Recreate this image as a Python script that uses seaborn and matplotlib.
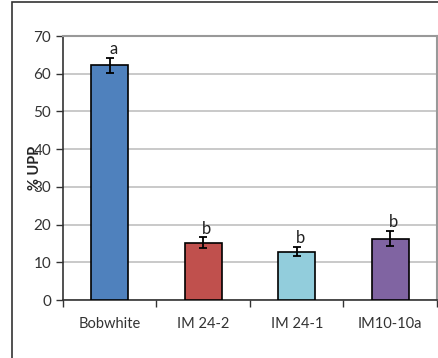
import matplotlib
matplotlib.use('Agg')
from matplotlib import pyplot as plt
from matplotlib.patches import Rectangle
import seaborn as sns
import pandas as pd

sns.set_style('white')
plt.rcParams['font.family'] = ['Lato', 'DejaVu Sans']

lines = ['Bobwhite', 'IM 24-2', 'IM 24-1', 'IM10-10a']
upp = [62.2, 15.2, 12.8, 16.3]
upp_err = [2.0, 1.4, 1.2, 2.0]
letters = ['a', 'b', 'b', 'b']
colors = ['#4f81bd', '#c0504d', '#92cddc', '#8064a2']

df = pd.DataFrame({'line': lines, 'upp': upp})

fig = plt.figure(figsize=(4.39, 3.58), dpi=100)
ax = fig.add_axes([63 / 439, 58 / 358, 374 / 439, 264 / 358])

sns.barplot(data=df, x='line', y='upp', hue='line', palette=colors, order=lines,
            width=0.4, saturation=1, edgecolor='black', linewidth=1.2, legend=False,
            ax=ax, zorder=3)
ax.errorbar(range(len(lines)), upp, yerr=upp_err, fmt='none', ecolor='black',
            elinewidth=1.3, capsize=3, capthick=1.3, zorder=4)
for i, (v, e, t) in enumerate(zip(upp, upp_err, letters)):
    ax.text(i + 0.04, v + e + 0.2, t, ha='center', va='bottom', fontsize=12, color='#222222')

ax.set_ylim(0, 70)
ax.set_xlim(-0.5, len(lines) - 0.5)
ax.set_yticks(range(0, 71, 10))
ax.yaxis.grid(True, color='#c0c0c0', linewidth=1.2, zorder=0)
ax.set_axisbelow(True)
ax.set_xlabel('')
ax.set_ylabel('% UPP', fontsize=10.5, fontweight='bold')
ax.yaxis.set_label_coords(-0.055, 0.5)

# category boundary ticks on the x axis
ax.set_xticks([x - 0.5 for x in range(len(lines) + 1)], minor=True)
ax.tick_params(axis='x', which='major', length=0, labelsize=10.5, pad=12, colors='#333333')
ax.tick_params(axis='x', which='minor', length=5, width=1, color='#333333',
               direction='out', bottom=True)
ax.tick_params(axis='y', length=5, width=1, color='#333333', direction='out',
               labelsize=11, labelcolor='#333333', left=True)

for side in ['left', 'bottom']:
    ax.spines[side].set_color('#333333')
    ax.spines[side].set_linewidth(1.2)
for side in ['top', 'right']:
    ax.spines[side].set_color('#999999')
    ax.spines[side].set_linewidth(1.5)

# outer chart frame
fig.patches.append(Rectangle((12 / 439, -0.05), 1.0, 1.05 - 2 / 358, transform=fig.transFigure,
                             fill=False, edgecolor='#333333', linewidth=1.2))

fig.savefig('out.png', dpi=100)
